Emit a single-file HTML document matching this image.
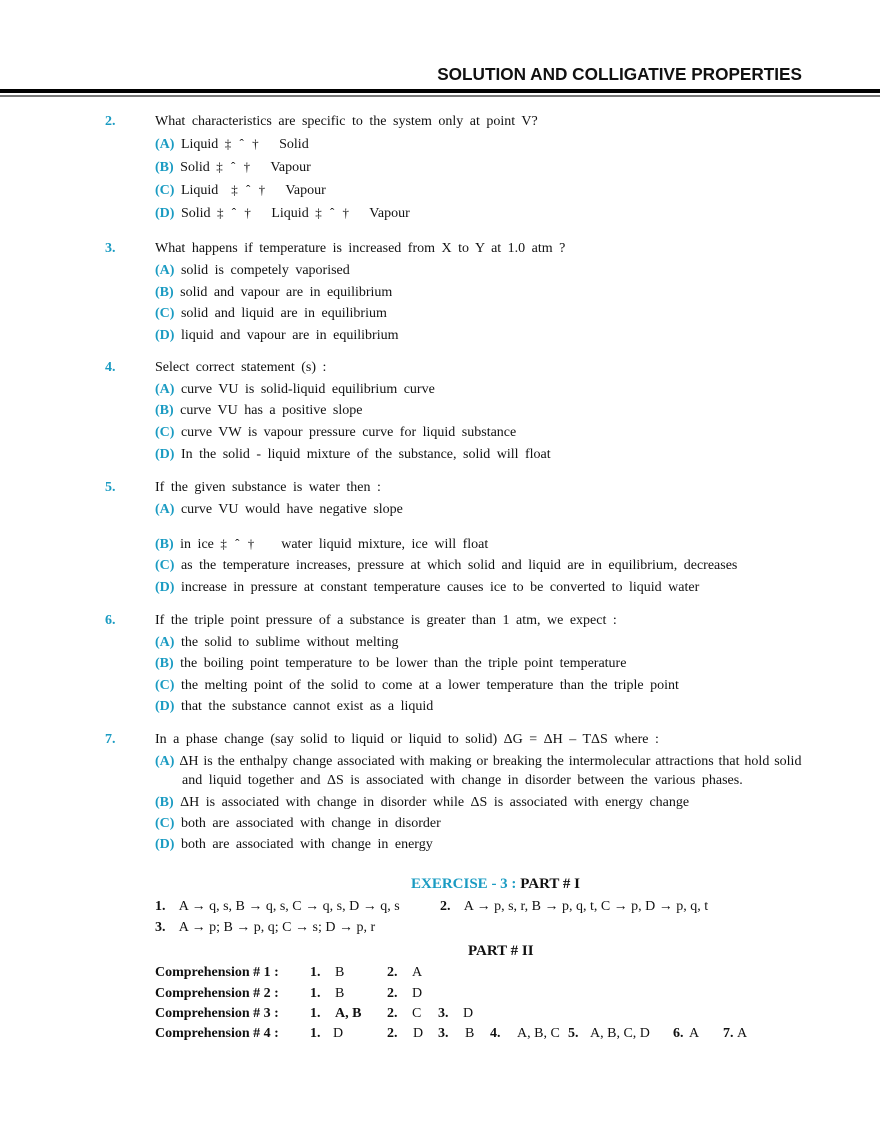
<!DOCTYPE html>
<html><head><meta charset="utf-8"><style>
body{margin:0;background:#fff;width:880px;height:1139px;position:relative;overflow:hidden;font-family:"Liberation Serif",serif;font-size:14px;color:#111;}
.l{position:absolute;white-space:nowrap;line-height:16px;word-spacing:3px}
.b{color:#1a9bc2;font-weight:bold}
.n{font-weight:bold}
.g{font-size:13px;letter-spacing:1px}
</style></head><body>
<div style="position:absolute;left:0;top:89px;width:880px;height:4px;background:#000"></div>
<div style="position:absolute;left:0;top:95px;width:880px;height:2px;background:#777"></div>
<div class="l" style="right:78px;top:65px;font-family:'Liberation Sans',sans-serif;font-weight:bold;font-size:17.2px;line-height:18px;word-spacing:0">SOLUTION AND COLLIGATIVE PROPERTIES</div>

<div class="l b" style="left:105px;top:114px">2.</div>
<div class="l" style="left:155px;top:114px">What characteristics are specific to the system only at point V?</div>
<div class="l" style="left:155px;top:136px"><span class="b">(A)</span> Liquid <span class="g">‡ ˆ †</span>&nbsp;&nbsp; Solid</div>
<div class="l" style="left:155px;top:159px"><span class="b">(B)</span> Solid <span class="g">‡ ˆ †</span>&nbsp;&nbsp; Vapour</div>
<div class="l" style="left:155px;top:182px"><span class="b">(C)</span> Liquid &nbsp;<span class="g">‡ ˆ †</span>&nbsp;&nbsp; Vapour</div>
<div class="l" style="left:155px;top:205px"><span class="b">(D)</span> Solid <span class="g">‡ ˆ †</span>&nbsp;&nbsp; Liquid <span class="g">‡ ˆ †</span>&nbsp;&nbsp; Vapour</div>

<div class="l b" style="left:105px;top:241px">3.</div>
<div class="l" style="left:155px;top:241px">What happens if temperature is increased from X to Y at 1.0 atm ?</div>
<div class="l" style="left:155px;top:263px"><span class="b">(A)</span> solid is competely vaporised</div>
<div class="l" style="left:155px;top:285px"><span class="b">(B)</span> solid and vapour are in equilibrium</div>
<div class="l" style="left:155px;top:306px"><span class="b">(C)</span> solid and liquid are in equilibrium</div>
<div class="l" style="left:155px;top:328px"><span class="b">(D)</span> liquid and vapour are in equilibrium</div>

<div class="l b" style="left:105px;top:360px">4.</div>
<div class="l" style="left:155px;top:360px">Select correct statement (s) :</div>
<div class="l" style="left:155px;top:382px"><span class="b">(A)</span> curve VU is solid-liquid equilibrium curve</div>
<div class="l" style="left:155px;top:403px"><span class="b">(B)</span> curve VU has a positive slope</div>
<div class="l" style="left:155px;top:425px"><span class="b">(C)</span> curve VW is vapour pressure curve for liquid substance</div>
<div class="l" style="left:155px;top:447px"><span class="b">(D)</span> In the solid - liquid mixture of the substance, solid will float</div>

<div class="l b" style="left:105px;top:480px">5.</div>
<div class="l" style="left:155px;top:480px">If the given substance is water then :</div>
<div class="l" style="left:155px;top:502px"><span class="b">(A)</span> curve VU would have negative slope</div>
<div class="l" style="left:155px;top:536px"><span class="b">(B)</span> in ice <span class="g">‡ ˆ †</span>&nbsp;&nbsp;&nbsp; water liquid mixture, ice will float</div>
<div class="l" style="left:155px;top:558px"><span class="b">(C)</span> as the temperature increases, pressure at which solid and liquid are in equilibrium, decreases</div>
<div class="l" style="left:155px;top:580px"><span class="b">(D)</span> increase in pressure at constant temperature causes ice to be converted to liquid water</div>

<div class="l b" style="left:105px;top:613px">6.</div>
<div class="l" style="left:155px;top:613px">If the triple point pressure of a substance is greater than 1 atm, we expect :</div>
<div class="l" style="left:155px;top:635px"><span class="b">(A)</span> the solid to sublime without melting</div>
<div class="l" style="left:155px;top:656px"><span class="b">(B)</span> the boiling point temperature to be lower than the triple point temperature</div>
<div class="l" style="left:155px;top:678px"><span class="b">(C)</span> the melting point of the solid to come at a lower temperature than the triple point</div>
<div class="l" style="left:155px;top:699px"><span class="b">(D)</span> that the substance cannot exist as a liquid</div>

<div class="l b" style="left:105px;top:732px">7.</div>
<div class="l" style="left:155px;top:732px">In a phase change (say solid to liquid or liquid to solid) ΔG = ΔH – TΔS where :</div>
<div class="l" style="left:155px;top:754px;word-spacing:1.4px"><span class="b">(A)</span> ΔH is the enthalpy change associated with making or breaking the intermolecular attractions that hold solid</div>
<div class="l" style="left:182px;top:773px">and liquid together and ΔS is associated with change in disorder between the various phases.</div>
<div class="l" style="left:155px;top:795px"><span class="b">(B)</span> ΔH is associated with change in disorder while ΔS is associated with energy change</div>
<div class="l" style="left:155px;top:816px"><span class="b">(C)</span> both are associated with change in disorder</div>
<div class="l" style="left:155px;top:837px"><span class="b">(D)</span> both are associated with change in energy</div>

<div class="l" style="left:411px;top:875px;font-size:15px;font-weight:bold;line-height:18px;word-spacing:0"><span style="color:#1a9bc2">EXERCISE - 3 :</span> PART # I</div>
<div class="l" style="left:155px;top:899px;word-spacing:0"><b>1.</b>&nbsp;&nbsp;&nbsp; A → q, s, B → q, s, C → q, s, D → q, s</div>
<div class="l" style="left:440px;top:899px;word-spacing:0"><b>2.</b>&nbsp;&nbsp;&nbsp; A → p, s, r, B → p, q, t, C → p, D → p, q, t</div>
<div class="l" style="left:155px;top:920px;word-spacing:0"><b>3.</b>&nbsp;&nbsp;&nbsp; A → p; B → p, q; C → s; D → p, r</div>
<div class="l" style="left:468px;top:942px;font-size:15px;font-weight:bold;line-height:18px;word-spacing:0">PART # II</div>

<div class="l n" style="left:155px;top:965px;word-spacing:0">Comprehension # 1 :</div>
<div class="l n" style="left:310px;top:965px">1.</div><div class="l" style="left:335px;top:965px">B</div>
<div class="l n" style="left:387px;top:965px">2.</div><div class="l" style="left:412px;top:965px">A</div>

<div class="l n" style="left:155px;top:986px;word-spacing:0">Comprehension # 2 :</div>
<div class="l n" style="left:310px;top:986px">1.</div><div class="l" style="left:335px;top:986px">B</div>
<div class="l n" style="left:387px;top:986px">2.</div><div class="l" style="left:412px;top:986px">D</div>

<div class="l n" style="left:155px;top:1006px;word-spacing:0">Comprehension # 3 :</div>
<div class="l n" style="left:310px;top:1006px">1.</div><div class="l n" style="left:335px;top:1006px;word-spacing:0">A, B</div>
<div class="l n" style="left:387px;top:1006px">2.</div><div class="l" style="left:412px;top:1006px">C</div>
<div class="l n" style="left:438px;top:1006px">3.</div><div class="l" style="left:463px;top:1006px">D</div>

<div class="l n" style="left:155px;top:1026px;word-spacing:0">Comprehension # 4 :</div>
<div class="l n" style="left:310px;top:1026px">1.</div><div class="l" style="left:333px;top:1026px">D</div>
<div class="l n" style="left:387px;top:1026px">2.</div><div class="l" style="left:413px;top:1026px">D</div>
<div class="l n" style="left:438px;top:1026px">3.</div><div class="l" style="left:465px;top:1026px">B</div>
<div class="l n" style="left:490px;top:1026px">4.</div><div class="l" style="left:517px;top:1026px;word-spacing:0">A, B, C</div>
<div class="l n" style="left:568px;top:1026px">5.</div><div class="l" style="left:590px;top:1026px;word-spacing:0">A, B, C, D</div>
<div class="l n" style="left:673px;top:1026px">6.</div><div class="l" style="left:689px;top:1026px">A</div>
<div class="l n" style="left:723px;top:1026px">7.</div><div class="l" style="left:737px;top:1026px">A</div>
</body></html>
